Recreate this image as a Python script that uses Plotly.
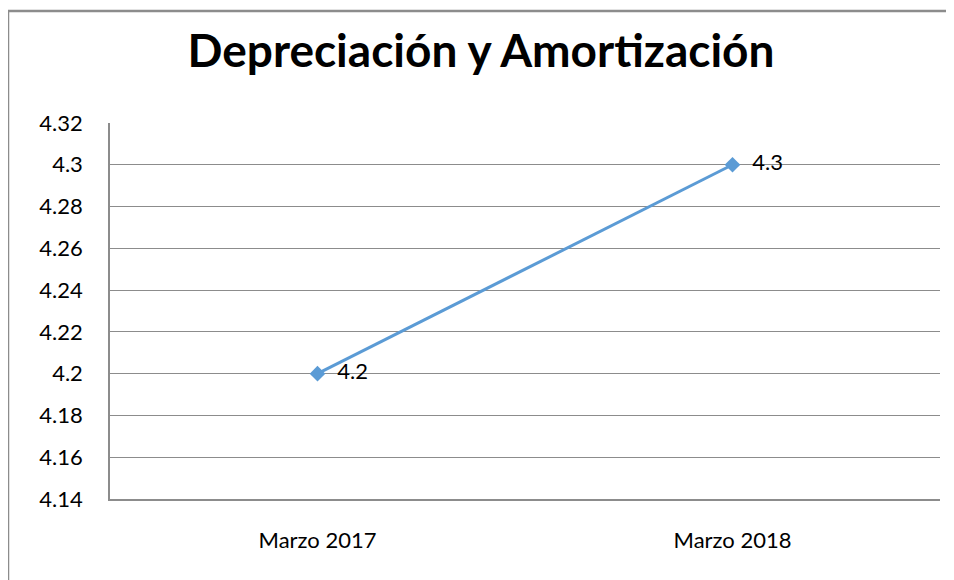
import plotly.graph_objects as go

categories = ["Marzo 2017", "Marzo 2018"]
values = [4.2, 4.3]
value_labels = ["4.2", "4.3"]
y_ticks = [4.14, 4.16, 4.18, 4.20, 4.22, 4.24, 4.26, 4.28, 4.30, 4.32]
y_tick_text = ["4.14", "4.16", "4.18", "4.2", "4.22", "4.24", "4.26", "4.28", "4.3", "4.32"]
title_text = "Depreciación y Amortización"

OFF = 8  # page body margin
W, H = 954 - OFF, 580 - OFF
L = 110 - OFF
T = 123 - OFF
R = W - (940 - OFF)
B = H - (499 - OFF)
pw, ph = W - L - R, H - T - B

fig = go.Figure()
fig.add_trace(go.Scatter(
    x=categories, y=values, mode="lines+markers+text",
    text=["  " + t for t in value_labels], textposition="middle right",
    textfont=dict(family="Lato, sans-serif", size=22, color="#000000"),
    line=dict(color="#5B9BD5", width=3),
    marker=dict(symbol="diamond", size=12, color="#5B9BD5"),
    cliponaxis=False, showlegend=False,
))

# outer chart border (left and top edges visible)
bx0 = ((8 - OFF) - L) / pw
by1 = (H - B - (11 - OFF)) / ph
border = dict(color="#8C8C8C", width=2.5)
fig.add_shape(type="line", xref="paper", yref="paper",
              x0=bx0, x1=1.3, y0=by1, y1=by1, line=border, layer="below")
fig.add_shape(type="line", xref="paper", yref="paper",
              x0=bx0, x1=bx0, y0=-0.6, y1=by1, line=border, layer="below")

fig.update_layout(
    width=W, height=H,
    margin=dict(l=L, r=R, t=T, b=B),
    paper_bgcolor="white", plot_bgcolor="white",
    title=dict(text="<b>" + title_text + "</b>", x=0.5, xanchor="center",
               y=1 - (51 - OFF) / H, yanchor="middle",
               font=dict(family="Lato, sans-serif", size=46, color="#000000")),
    font=dict(family="Lato, sans-serif", size=22, color="#000000"),
    xaxis=dict(type="category", range=[-0.5, 1.5], showgrid=False, showline=True,
               linecolor="#8C8C8C", linewidth=1.5, ticks="", ticklabelstandoff=21,
               zeroline=False, tickfont=dict(size=22)),
    yaxis=dict(range=[4.14, 4.32], tickvals=y_ticks, ticktext=y_tick_text,
               showgrid=True, gridcolor="#8C8C8C", gridwidth=1,
               showline=True, linecolor="#8C8C8C", linewidth=1.5,
               ticks="", ticklabelstandoff=21, zeroline=False,
               tickfont=dict(size=22)),
)

fig.write_html("out.html")
